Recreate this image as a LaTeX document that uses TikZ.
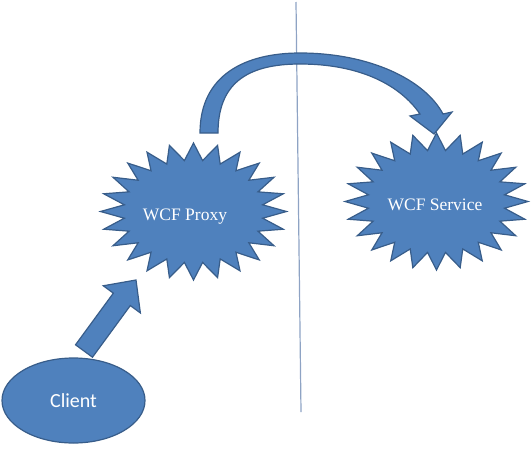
\documentclass[tikz,border=0pt]{standalone}
\usepackage{fontspec}
\setmainfont{Liberation Serif}
\newfontfamily\clientfont{Carlito}
\usetikzlibrary{shapes.geometric,calc}
\definecolor{shapeblue}{HTML}{4F81BD}
\definecolor{shapeedge}{HTML}{385D8A}
\definecolor{lineblue}{HTML}{8EA3C4}
\begin{document}
\begin{tikzpicture}[x=1pt,y=-1pt,
  shapefill/.style={fill=shapeblue, draw=shapeedge, line width=1.2pt, line join=miter},
  labeltext/.style={text=white, font=\fontsize{17.5}{20}\selectfont, inner sep=0pt},
  pics/starburst/.style n args={2}{code={
    \draw[shapefill] plot[samples at={0,...,47}, variable=\i]
      ({#1*(1-0.25*mod(\i,2))*sin(\i*7.5)}, {-#2*(1-0.25*mod(\i,2))*cos(\i*7.5)}) -- cycle;
  }}]
\useasboundingbox (0,0) rectangle (532,450);
% divider line
\coordinate (ltop) at (296,2);
\coordinate (lbot) at (301,412);
\draw[lineblue, line width=1.2pt] (ltop) -- (lbot);
% stars
\pic at (193.5,211.5) {starburst={93}{68.5}};
\pic at (436.5,201.5) {starburst={91.5}{68.5}};
\node[labeltext] (proxy) at (185,217) {WCF Proxy};
\node[labeltext] (service) at (435,205) {WCF Service};
% curved arrow proxy -> service
\coordinate (cstart) at (209,133);
\coordinate (ctip) at (434,134);
\draw[shapefill] (200,133) .. controls (200,75) and (245,53) .. (300,53)
  .. controls (370,53) and (425,80) .. (443,114)
  -- (452,112) -- (ctip) -- (410,116) -- (420,114)
  .. controls (400,85) and (360,64) .. (300,64)
  .. controls (245,64) and (218,85) .. (218,133) -- cycle;
% straight arrow client -> proxy
\coordinate (stail) at (84,351);
\coordinate (shead) at (136,280);
\coordinate (sbase) at ($(shead)!24pt!(stail)$);
\draw[shapefill] ($(stail)!10.5pt!90:(shead)$) -- ($(sbase)!10.5pt!90:(shead)$)
  -- ($(sbase)!23pt!90:(shead)$) -- (shead) -- ($(sbase)!23pt!-90:(shead)$)
  -- ($(sbase)!10.5pt!-90:(shead)$) -- ($(stail)!10.5pt!-90:(shead)$) -- cycle;
% client
\node[shapefill, ellipse, minimum width=143pt, minimum height=85pt, inner sep=0pt,
  text=white, font=\clientfont\fontsize{20}{24}\selectfont] (client) at (73.5,400.5) {Client};
\end{tikzpicture}
\end{document}
